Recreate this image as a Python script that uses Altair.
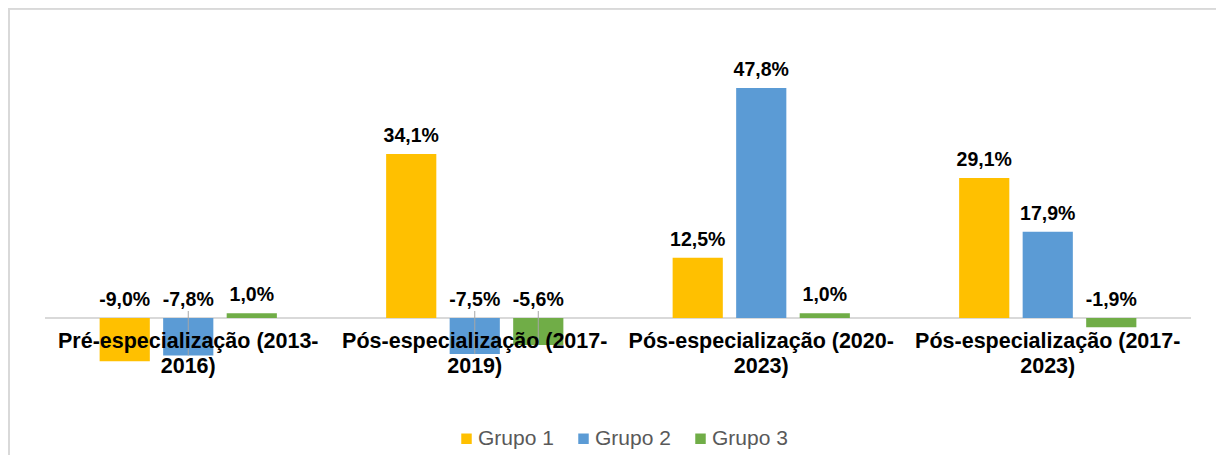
import altair as alt
import pandas as pd

categories = [
    "Pré-especialização (2013-2016)",
    "Pós-especialização (2017-2019)",
    "Pós-especialização (2020-2023)",
    "Pós-especialização (2017-2023)",
]
groups = ["Grupo 1", "Grupo 2", "Grupo 3"]
grupo1 = [-9.0, 34.1, 12.5, 29.1]
grupo2 = [-7.8, -7.5, 47.8, 17.9]
grupo3 = [1.0, -5.6, 1.0, -1.9]
colors = ["#FFC000", "#5B9BD5", "#70AD47"]
# data labels that Excel moved away from their bars and joined with a leader line
leader_lines = [
    ("Pré-especialização (2013-2016)", "Grupo 2"),
    ("Pós-especialização (2017-2019)", "Grupo 2"),
    ("Pós-especialização (2017-2019)", "Grupo 3"),
]

W, H = 1208, 447
zero_px = 310.0
k = 230.0 / 47.8  # pixels per percentage point
ydom = [-(H - zero_px) / k, zero_px / k]

rows = []
for g, vals in zip(groups, [grupo1, grupo2, grupo3]):
    for c, v in zip(categories, vals):
        rows.append({
            "cat": c, "grupo": g, "v": v,
            "labely": max(v, 0.0),
            "label": f"{v:.1f}%".replace(".", ","),
            "leader": (c, g) in leader_lines,
        })
df = pd.DataFrame(rows)

def two_lines(c):
    head, tail = c.rsplit("-", 1)
    return head + "-\n" + tail

cat_df = pd.DataFrame({"cat": categories, "catlabel": [two_lines(c) for c in categories]})

xs = alt.X("cat:N", sort=categories, axis=None,
           scale=alt.Scale(domain=categories, range=[37, 1183], paddingInner=0, paddingOuter=0))
xo = alt.XOffset("grupo:N", sort=groups,
                 scale=alt.Scale(domain=groups, paddingInner=0.21, paddingOuter=0.86))
yscale = alt.Scale(domain=ydom, nice=False, zero=False)
ys = alt.Y("v:Q", axis=None, scale=yscale)
ysl = alt.Y("labely:Q", axis=None, scale=yscale)

border_left = alt.Chart(cat_df).mark_rule(color="#d9d9d9", strokeWidth=1.5).encode(
    x=alt.value(1), y=alt.value(0), y2=alt.value(H))
border_top = alt.Chart(cat_df).mark_rule(color="#d9d9d9", strokeWidth=1.5).encode(
    x=alt.value(0), x2=alt.value(W), y=alt.value(0.75))

zero_line = alt.Chart(cat_df).mark_rule(color="#d9d9d9", strokeWidth=2).encode(
    y=alt.Y(datum=0, scale=yscale, axis=None),
    x=alt.value(37), x2=alt.value(1183))

bars = alt.Chart(df).mark_bar().encode(
    x=xs, xOffset=xo, y=ys, y2=alt.Y2(datum=0),
    color=alt.Color("grupo:N", sort=groups,
                    scale=alt.Scale(domain=groups, range=colors),
                    legend=alt.Legend(title=None, orient="none", direction="horizontal",
                                      legendX=448, legendY=420,
                                      symbolType="square", symbolSize=110,
                                      symbolStrokeWidth=0, labelFontSize=21,
                                      labelColor="#595959", labelFont="Liberation Sans",
                                      labelOffset=1, columnPadding=19)))

leaders = alt.Chart(df).transform_filter("datum.leader").mark_rule(
    color="#a6a6a6", strokeWidth=1, y2Offset=-7).encode(
    x=xs, xOffset=xo, y=ys, y2=alt.Y2(datum=0))

labels = alt.Chart(df).mark_text(fontSize=19.5, fontWeight="bold", color="#000000",
                                 baseline="alphabetic", dy=-12).encode(
    x=xs, xOffset=xo, y=ysl, text="label:N")

cat_labels = alt.Chart(cat_df).mark_text(fontSize=21.5, fontWeight="bold", color="#000000",
                                         baseline="top", dy=13, lineHeight=25,
                                         lineBreak="\n").encode(
    x=xs, y=alt.Y(datum=0, scale=yscale, axis=None),
    text="catlabel:N")

chart = alt.layer(border_left, border_top, zero_line, bars, leaders, labels, cat_labels).properties(
    width=W, height=H, padding=0,
    autosize=alt.AutoSizeParams(type="none"),
).configure_view(strokeWidth=0).configure(font="Liberation Sans")

chart.save("out.html", embed_options={"renderer": "svg", "actions": False})
